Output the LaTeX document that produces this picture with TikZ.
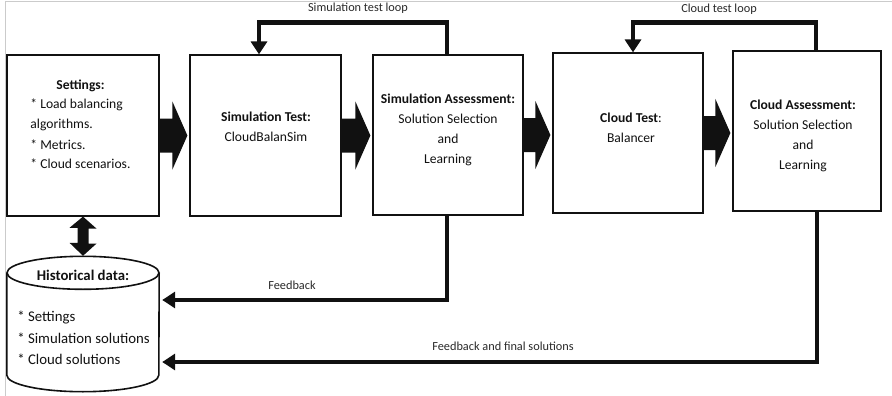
\documentclass[tikz,border=0pt]{standalone}
\usepackage{fontspec}
\setmainfont{Carlito}
\usetikzlibrary{arrows.meta,calc}
\definecolor{InkBlack}{HTML}{111111}
\definecolor{FrameGrey}{HTML}{CBCBCB}

% fat block arrow from the east side of #1 to the west side of #2
\newcommand{\blockarrow}[2]{%
  \fill[InkBlack] ($(#1.east)+(0,-17)$) -- ($(#1.east -| #2.west)+(-17,-17)$)
    -- ($(#1.east -| #2.west)+(-17,-34)$) -- ($(#1.east -| #2.west)+(-2,0)$)
    -- ($(#1.east -| #2.west)+(-17,34)$) -- ($(#1.east -| #2.west)+(-17,17)$)
    -- ($(#1.east)+(0,17)$) -- cycle;}

\begin{document}
\begin{tikzpicture}[x=1pt, y=-1pt,
    box/.style={draw=InkBlack, line width=1.2pt, inner sep=0pt},
    txt/.style={font=\fontsize{13.6}{20}\selectfont, align=center, text=InkBlack, inner sep=0pt},
    lbl/.style={font=\fontsize{12.3}{14}\selectfont, text=InkBlack!90, inner sep=0pt},
    link/.style={line width=4.5pt, draw=InkBlack, -{Triangle[length=13pt, width=16pt]}}]
    \useasboundingbox (0,0) rectangle (892,396);

    % Frame
    \draw[FrameGrey, line width=1pt] (5,396) -- (5,2) -- (892,2);

    % Boxes
    \node[box, minimum width=152, minimum height=161] (set) at (83,135.5) {};
    \node[box, minimum width=151, minimum height=161] (simtest) at (265.5,135.5) {};
    \node[box, minimum width=150, minimum height=160] (simass) at (448,135) {};
    \node[box, minimum width=150, minimum height=160] (cldtest) at (628,133) {};
    \node[box, minimum width=148, minimum height=160] (cldass) at (807,131) {};

    % Box texts
    \node[txt] (set-txt) at (80.5,125) {%
        \begin{tabular}{@{}l@{}}
        \multicolumn{1}{@{}c@{}}{\textbf{Settings:}}\\
        {}* Load balancing\\
        algorithms.\\
        {}* Metrics.\\
        {}* Cloud scenarios.
        \end{tabular}};
    \node[txt] (simtest-txt) at (266,127) {\textbf{Simulation Test:}\\CloudBalanSim};
    \node[txt] (simass-txt) at (448,130) {\textbf{Simulation Assessment:}\\Solution Selection\\and\\Learning};
    \node[txt] (cldtest-txt) at (631,128) {\textbf{Cloud Test}:\\Balancer};
    \node[txt] (cldass-txt) at (803,136) {\textbf{Cloud Assessment:}\\Solution Selection\\and\\Learning};

    % Block arrows
    \blockarrow{set}{simtest}
    \blockarrow{simtest}{simass}
    \blockarrow{simass}{cldtest}
    \blockarrow{cldtest}{cldass}

    % Historical data (cylinder)
    \node[minimum width=152, minimum height=136, inner sep=0pt] (hist) at (83,324) {};
    \draw[InkBlack, line width=1.6pt] ($(hist.north)+(0,17)$) ellipse [x radius=76pt, y radius=16.5pt];
    \draw[InkBlack, line width=1.6pt] ($(hist.north west)+(0,17)$) -- ($(hist.south west)+(0,-17)$)
        arc[start angle=180, end angle=360, x radius=76pt, y radius=16.5pt]
        -- ($(hist.north east)+(0,17)$);
    \node[txt, font=\fontsize{14.8}{21.5}\selectfont] (hist-head) at (83,275) {\textbf{Historical data:}};
    \node[txt, font=\fontsize{14.8}{21.5}\selectfont, align=left] (hist-txt) at (83.5,338)
        {{}* Settings\\{}* Simulation solutions\\{}* Cloud solutions};

    % Settings <-> historical data
    \fill[InkBlack] (set.south) -- ++(13.5,12) -- ++(-8,0) -- ++(0,15) -- ++(8,0) -- (hist.north)
        -- ++(-13.5,-13) -- ++(8,0) -- ++(0,-15) -- ++(-8,0) -- cycle;

    % Test loops
    \draw[link] ([xshift=-1pt]simass.north) -- ++(0,-32) -| ([xshift=-6.5pt]simtest.north);
    \draw[link] ([xshift=9pt]cldass.north) -- ++(0,-28) -| ([xshift=5pt]cldtest.north);
    \node[lbl] (simloop) at (358,8) {Simulation test loop};
    \node[lbl] (cldloop) at (719,9) {Cloud test loop};

    % Feedback lines
    \draw[link] ([xshift=-1pt]simass.south) |- ([xshift=3pt, yshift=24pt]hist.east);
    \draw[link] ([xshift=10pt]cldass.south) |- ([xshift=3pt, yshift=-38pt]hist.east);
    \node[lbl] (fb) at (292,285) {Feedback};
    \node[lbl] (fbfinal) at (503,346) {Feedback and final solutions};
\end{tikzpicture}
\end{document}
